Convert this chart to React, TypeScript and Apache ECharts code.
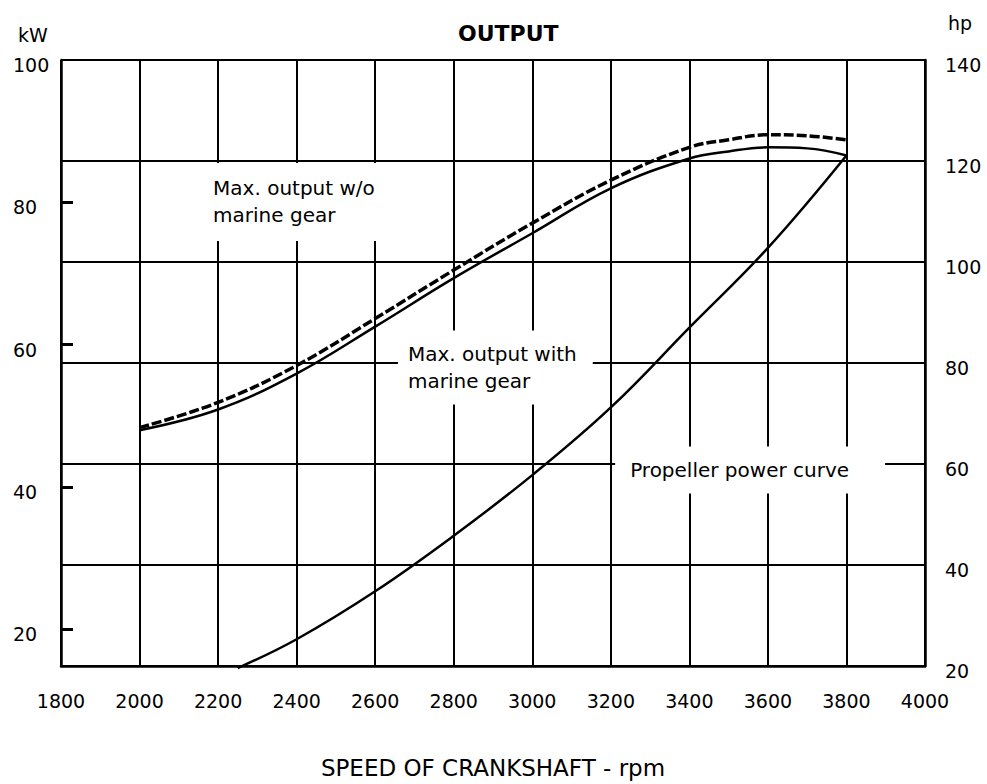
import React, { useEffect, useRef } from "react";
import * as echarts from "echarts";

const FONT = "DejaVu Sans";

// Engine speed (rpm) for the two maximum-output curves
const rpmMax = [2000, 2200, 2400, 2600, 2800, 3000, 3200, 3400, 3500, 3600, 3700, 3800];
// Max. output without marine gear (hp)
const hpWithoutGear = [67.2, 72.2, 79.5, 88.8, 98.4, 107.7, 116.2, 122.7, 124.2, 125.2, 125.0, 124.2];
// Max. output with marine gear (hp)
const hpWithGear = [66.7, 70.8, 77.9, 87.2, 96.8, 105.7, 114.6, 120.5, 121.9, 122.7, 122.5, 121.1];

// Propeller power curve
const rpmProp = [2250, 2400, 2600, 2800, 3000, 3200, 3400, 3600, 3800];
const hpProp = [19.6, 25.3, 34.8, 45.8, 57.8, 71.2, 87.0, 102.8, 121.1];

// Axis ticks
const kwLabels = [20, 40, 60, 80, 100];
const kwTicks = [20, 40, 60, 80];

// Annotations
const noteTexts = ["Max. output w/o\nmarine gear", "Max. output with\nmarine gear", "Propeller power curve"];
const noteRpm = [2172, 2658, 3211];
const noteHp = [111.9, 79.1, 58.8];

export default function App() {
  const ref = useRef<HTMLDivElement>(null);

  useEffect(() => {
    const chart = echarts.init(ref.current as HTMLDivElement, null, { renderer: "svg" });
    const black = "#000";
    const notePadding = [
      [12, 10, 12, 6],
      [10, 16, 10, 10],
      [10, 36, 10, 15],
    ];
    chart.setOption({
      animation: false,
      backgroundColor: "#fff",
      title: {
        text: "OUTPUT",
        left: 453,
        top: 17,
        textStyle: { fontFamily: FONT, fontSize: 22, fontWeight: "bold", color: black },
      },
      grid: { left: 61, right: 62, top: 60, bottom: 114 },
      xAxis: {
        type: "value",
        min: 1800,
        max: 4000,
        interval: 200,
        name: "SPEED OF CRANKSHAFT - rpm",
        nameLocation: "middle",
        nameGap: 90,
        nameTextStyle: { fontFamily: FONT, fontSize: 23, color: black },
        axisLine: { show: true, lineStyle: { color: black, width: 2.5 } },
        axisTick: { show: false },
        axisLabel: {
          color: black,
          fontFamily: FONT,
          fontSize: 19,
          margin: 25,
          formatter: (v: number) => String(v),
        },
        splitLine: { show: true, lineStyle: { color: black, width: 2 } },
      },
      yAxis: [
        {
          type: "value",
          position: "left",
          min: 14.8,
          max: 100,
          name: "kW",
          nameLocation: "end",
          nameGap: 16,
          nameTextStyle: { fontFamily: FONT, fontSize: 19, color: black, padding: [0, 56, 0, 0] },
          axisLine: { show: true, lineStyle: { color: black, width: 2.5 } },
          axisTick: {
            show: true,
            inside: true,
            length: 12,
            customValues: kwTicks,
            lineStyle: { color: black, width: 3 },
          },
          axisLabel: {
            customValues: kwLabels,
            color: black,
            fontFamily: FONT,
            fontSize: 19,
            align: "left",
            margin: 48,
            verticalAlign: "top",
            lineHeight: 10,
          },
          splitLine: { show: false },
        },
        {
          type: "value",
          position: "right",
          min: 20,
          max: 140,
          interval: 20,
          name: "hp",
          nameLocation: "end",
          nameGap: 28,
          nameTextStyle: { fontFamily: FONT, fontSize: 19, color: black, padding: [0, 0, 0, 70] },
          axisLine: { show: true, lineStyle: { color: black, width: 2.5 } },
          axisTick: { show: false },
          axisLabel: {
            color: black,
            fontFamily: FONT,
            fontSize: 19,
            margin: 20,
            verticalAlign: "top",
            lineHeight: 10,
          },
          splitLine: { show: true, lineStyle: { color: black, width: 2 } },
        },
      ],
      series: [
        {
          name: "Max. output w/o marine gear",
          type: "line",
          yAxisIndex: 1,
          smooth: 0.4,
          symbol: "none",
          silent: true,
          data: rpmMax.map((r, i) => [r, hpWithoutGear[i]]),
          lineStyle: { color: black, width: 3.5, type: [10, 3] },
          z: 5,
        },
        {
          name: "Max. output with marine gear",
          type: "line",
          yAxisIndex: 1,
          smooth: 0.4,
          symbol: "none",
          silent: true,
          data: rpmMax.map((r, i) => [r, hpWithGear[i]]),
          lineStyle: { color: black, width: 2.5 },
          z: 5,
        },
        {
          name: "Propeller power curve",
          type: "line",
          yAxisIndex: 1,
          smooth: 0.4,
          symbol: "none",
          silent: true,
          clip: false,
          data: rpmProp.map((r, i) => [r, hpProp[i]]),
          lineStyle: { color: black, width: 2.5 },
          z: 5,
        },
        {
          type: "scatter",
          yAxisIndex: 1,
          symbolSize: 0,
          silent: true,
          itemStyle: { color: "transparent", opacity: 1 },
          z: 20,
          data: noteTexts.map((t, i) => ({
            name: t,
            value: [noteRpm[i], noteHp[i]],
            label: { padding: notePadding[i] },
          })),
          label: {
            show: true,
            position: "right",
            distance: 0,
            formatter: (p: any) => p.name,
            fontFamily: FONT,
            fontSize: 20,
            lineHeight: 27,
            color: "#000",
            backgroundColor: "#fff",
            align: "left",
          },
        },
      ],
    });
    return () => chart.dispose();
  }, []);

  return (
    <div
      ref={ref}
      style={{ position: "fixed", left: 0, top: 0, width: 987, height: 784, background: "#fff" }}
    />
  );
}
